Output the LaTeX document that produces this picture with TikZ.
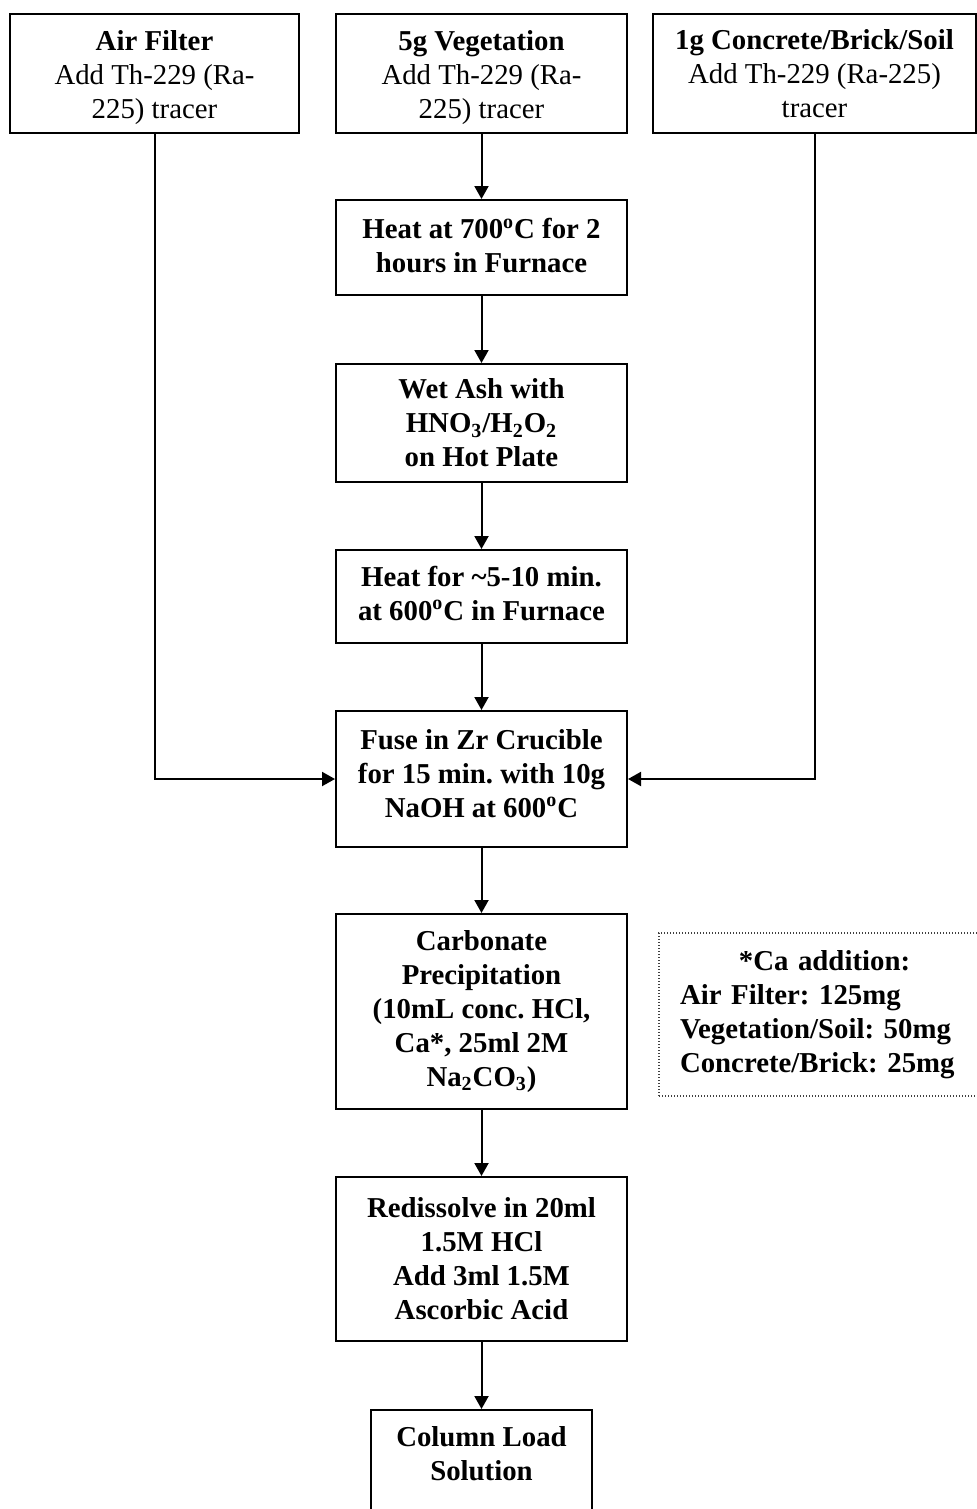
\documentclass[tikz,border=0pt]{standalone}
\usepackage{fontspec}
\setmainfont{Liberation Serif}
\usetikzlibrary{arrows.meta}
\frenchspacing
\begin{document}
\frenchspacing
\begin{tikzpicture}[x=0.5pt,y=-0.5pt,
  >={Triangle[width=7pt,length=6.5pt]},
  base/.style={align=center, inner sep=0pt, font=\fontsize{14.4}{17}\selectfont},
  box/.style={base, draw, line width=1pt, font=\fontsize{14.4}{17}\selectfont\bfseries},
  topbox/.style={base, draw, line width=1pt, minimum height=59.5pt},
  stepbox/.style={box, minimum width=145.5pt},
  conn/.style={->, line width=1pt},
  notebox/.style={draw=black!75, line width=0.6pt, dash pattern=on 0.6pt off 0.9pt,
     align=left, inner sep=0pt, text width=144.5pt, minimum width=165.5pt, minimum height=81.5pt,
     font=\fontsize{14.4}{17}\selectfont\bfseries}]
\clip (0,0) rectangle (977,1509);

\node[topbox, minimum width=144.5pt] (air) at (154.5,73.5) {\rule{0pt}{14.5pt}\textbf{Air Filter}\\Add Th-229 (Ra-\\225) tracer};
\node[topbox, minimum width=145.5pt] (veg) at (481.5,73.5) {\rule{0pt}{14.5pt}\textbf{5g Vegetation}\\Add Th-229 (Ra-\\225) tracer};
\node[topbox, minimum width=161.5pt] (conc) at (814.5,73.5) {\textbf{1g Concrete/Brick/Soil}\\Add Th-229 (Ra-225)\\tracer};

\node[stepbox, minimum height=47.5pt] (heat) at (481.5,247.5) {Heat at 700\textsuperscript{o}C for 2\\hours in Furnace\rule[-2pt]{0pt}{2pt}};
\node[stepbox, minimum height=59pt] (wet) at (481.5,423) {Wet Ash with\\HNO\textsubscript{3}/H\textsubscript{2}O\textsubscript{2}\\on Hot Plate};
\node[stepbox, minimum height=46.5pt] (heattwo) at (481.5,596.5) {Heat for \textasciitilde5-10 min.\\at 600\textsuperscript{o}C in Furnace\rule[-3.5pt]{0pt}{3.5pt}};
\node[stepbox, minimum height=68pt] (fuse) at (481.5,779) {Fuse in Zr Crucible\\for 15 min. with 10g\\NaOH at 600\textsuperscript{o}C\rule[-6pt]{0pt}{6pt}};
\node[stepbox, minimum height=97.5pt] (carb) at (481.5,1011.5) {Carbonate\\Precipitation\\(10mL conc. HCl,\\Ca*, 25ml 2M\\Na\textsubscript{2}CO\textsubscript{3})};
\node[stepbox, minimum height=82pt] (redis) at (481.5,1259) {Redissolve in 20ml\\1.5M HCl\\Add 3ml 1.5M\\Ascorbic Acid};
\node[box, minimum width=110.5pt, minimum height=80pt, anchor=north] (col) at (481.5,1409) {};
\node[base, font=\fontsize{14.4}{17}\selectfont\bfseries] (coltext) at (481.5,1454) {Column Load\\Solution};

\node[notebox] (ca) at (824.5,1014.5) {\makebox[144.5pt]{*Ca addition:}\\Air Filter: 125mg\\Vegetation/Soil: 50mg\\Concrete/Brick: 25mg};

\draw[conn] (veg) -- (heat);
\draw[conn] (heat) -- (wet);
\draw[conn] (wet) -- (heattwo);
\draw[conn] (heattwo) -- (fuse);
\draw[conn] (fuse) -- (carb);
\draw[conn] (carb) -- (redis);
\draw[conn] (redis) -- (col);
\draw[conn] (air.south) |- (fuse.west);
\draw[conn] (conc.south) |- (fuse.east);
\end{tikzpicture}
\end{document}
